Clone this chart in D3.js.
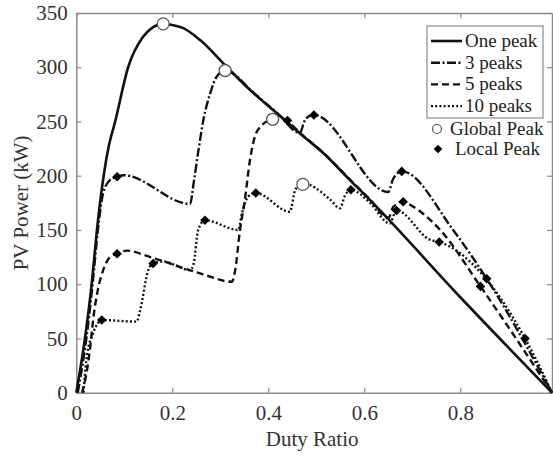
<!doctype html>
<html>

<head>
    <title>PV Power vs Duty Ratio</title>
    <style>
        body { margin: 0; background: #ffffff; }
        svg text { font-family: "Liberation Serif", "Times New Roman", "DejaVu Serif", serif !important; }
    </style>
</head>

<body>
    <script src="https://d3js.org/d3.v7.min.js"></script>
    <script>
    // curve data: [duty ratio, power in kW]
    var onePeak = [[0, 0], [0.018, 50], [0.032, 100], [0.043, 150], [0.057, 200], [0.068, 228], [0.081, 250],
        [0.108, 300], [0.139, 328], [0.16, 337], [0.181, 340], [0.2, 339], [0.223, 336], [0.258, 325],
        [0.313, 300.5], [0.362, 279], [0.418, 257.5], [0.466, 239], [0.515, 220.7], [0.57, 196],
        [0.612, 177.5], [0.8, 88], [0.991, 0]];

    var threePeaks = [[0.003, 0], [0.021, 50], [0.034, 100], [0.045, 150], [0.056, 184], [0.07, 196],
        [0.085, 199], [0.098, 200.5], [0.237, 174], [0.245, 195], [0.255, 225], [0.265, 252], [0.279, 276],
        [0.292, 291], [0.31, 297], [0.33, 293], [0.362, 279.5], [0.418, 258], [0.466, 239.5],
        [0.475, 250], [0.485, 255], [0.495, 256], [0.65, 185], [0.66, 197], [0.678, 204], [0.785, 150],
        [0.855, 105], [0.991, 0]];

    var fivePeaks = [[0.012, 0], [0.022, 20], [0.029, 42], [0.035, 67], [0.045, 95], [0.056, 113], [0.07, 125],
        [0.085, 128], [0.105, 131], [0.154, 125], [0.258, 110], [0.324, 102.3], [0.331, 113], [0.341, 150],
        [0.351, 177.5], [0.362, 215], [0.372, 236], [0.383, 245], [0.409, 252], [0.425, 253], [0.44, 250],
        [0.466, 239.5], [0.515, 221], [0.57, 196.5], [0.612, 178], [0.65, 161], [0.66, 171], [0.681, 176],
        [0.7, 172], [0.758, 150], [0.842, 98], [0.991, 0]];

    var tenPeaks = [[0.015, 0], [0.021, 30], [0.035, 55], [0.045, 64], [0.053, 67], [0.126, 65.5], [0.133, 76],
        [0.15, 113], [0.16, 119.3], [0.18, 121], [0.237, 113], [0.244, 118], [0.254, 150], [0.268, 159],
        [0.3375, 150], [0.345, 165], [0.358, 180.7], [0.374, 184], [0.445, 166.8], [0.456, 186.8],
        [0.472, 193], [0.529, 178], [0.549, 170], [0.56, 182], [0.572, 187], [0.612, 175], [0.653, 156],
        [0.667, 168], [0.737, 141], [0.756, 139], [0.935, 50], [0.991, 0]];

    var globalPeaks = [[0.181, 340], [0.31, 297], [0.409, 252], [0.472, 192]];
    var localPeaks = [[0.085, 199], [0.495, 256], [0.678, 204], [0.855, 105],
        [0.085, 128], [0.44, 251], [0.681, 176], [0.842, 98],
        [0.053, 67], [0.16, 119], [0.268, 159], [0.374, 184], [0.572, 187], [0.667, 168], [0.756, 139], [0.935, 50]];

    var xTicks = [0, 0.2, 0.4, 0.6, 0.8];
    var yTicks = [0, 50, 100, 150, 200, 250, 300, 350];
    var seriesNames = ["One peak", "3 peaks", "5 peaks", "10 peaks"];
    var seriesDash = [null, "9,2.5,2,2.5", "7,4", "2,2.2"];

    var width = 553, height = 457;
    var plot = { left: 76.3, right: 552, top: 13, bottom: 392.7 };
    var serif = "'Liberation Serif', 'Times New Roman', 'DejaVu Serif', serif";

    var svg = d3.select("body")
        .append("svg")
        .attr("width", width)
        .attr("height", height)
        .attr("font-family", serif)

    svg.append("rect")
        .attr("width", width)
        .attr("height", height)
        .attr("fill", "#ffffff")

    var x = d3.scaleLinear().domain([0, 0.991]).range([plot.left, plot.right]);
    var y = d3.scaleLinear().domain([0, 350]).range([plot.bottom, plot.top]);

    var axisColor = "#8c8c8c";

    // bottom axis with labels, ticks pointing inwards
    svg.append("g")
        .attr("transform", "translate(0," + plot.bottom + ")")
        .call(d3.axisBottom(x).tickValues(xTicks).tickFormat(d3.format("")).tickSizeInner(-5).tickSizeOuter(0).tickPadding(12))
    // top axis, ticks only
    svg.append("g")
        .attr("transform", "translate(0," + plot.top + ")")
        .call(d3.axisTop(x).tickValues(xTicks).tickFormat("").tickSizeInner(-5).tickSizeOuter(0))
    // left axis with labels
    svg.append("g")
        .attr("transform", "translate(" + plot.left + ",0)")
        .call(d3.axisLeft(y).tickValues(yTicks).tickSizeInner(-5).tickSizeOuter(0).tickPadding(8.5))
    // right axis, ticks only
    svg.append("g")
        .attr("transform", "translate(" + plot.right + ",0)")
        .call(d3.axisRight(y).tickValues(yTicks).tickFormat("").tickSizeInner(-5).tickSizeOuter(0))

    svg.selectAll("g").attr("font-family", serif);
    svg.selectAll(".domain").attr("stroke", axisColor).attr("stroke-width", 1.5);
    svg.selectAll(".tick line").attr("stroke", axisColor).attr("stroke-width", 1.2);
    svg.selectAll(".tick text")
        .attr("font-family", serif)
        .attr("font-size", 21)
        .attr("fill", "#333333")

    // axis titles
    svg.append("text")
        .attr("x", (plot.left + plot.right) / 2 - 2)
        .attr("y", 446)
        .attr("text-anchor", "middle")
        .attr("font-size", 21)
        .attr("fill", "#333333")
        .text("Duty Ratio")

    svg.append("text")
        .attr("transform", "translate(28," + (plot.top + plot.bottom) / 2 + ") rotate(-90)")
        .attr("text-anchor", "middle")
        .attr("font-size", 21)
        .attr("fill", "#333333")
        .text("PV Power (kW)")

    // curves
    var line = d3.line()
        .x(function (d) { return x(d[0]); })
        .y(function (d) { return y(d[1]); })
        .curve(d3.curveMonotoneX)

    var allSeries = [onePeak, threePeaks, fivePeaks, tenPeaks];
    allSeries.forEach(function (data, i) {
        svg.append("path")
            .datum(data)
            .attr("d", line)
            .attr("fill", "none")
            .attr("stroke", "#111111")
            .attr("stroke-width", i == 0 ? 2.6 : 2.4)
            .attr("stroke-dasharray", seriesDash[i])
    })

    // peak markers (square diamonds, like matlab 'd')
    var diamond = d3.symbol().type(d3.symbolDiamond2).size(58);
    svg.selectAll(".local")
        .data(localPeaks)
        .enter()
        .append("path")
        .attr("class", "local")
        .attr("d", diamond)
        .attr("transform", function (d) { return "translate(" + x(d[0]) + "," + y(d[1]) + ")"; })
        .attr("fill", "#000000")

    svg.selectAll(".global")
        .data(globalPeaks)
        .enter()
        .append("circle")
        .attr("class", "global")
        .attr("cx", function (d) { return x(d[0]); })
        .attr("cy", function (d) { return y(d[1]); })
        .attr("r", 6)
        .attr("fill", "#ffffff")
        .attr("stroke", "#555555")
        .attr("stroke-width", 1.3)

    // legend
    var legend = svg.append("g");
    legend.append("rect")
        .attr("x", 427)
        .attr("y", 26)
        .attr("width", 116)
        .attr("height", 92)
        .attr("fill", "#ffffff")
        .attr("stroke", axisColor)
        .attr("stroke-width", 1.2)

    seriesNames.forEach(function (name, i) {
        var ly = 41 + i * 21.7;
        legend.append("line")
            .attr("x1", 431)
            .attr("x2", 462)
            .attr("y1", ly)
            .attr("y2", ly)
            .attr("stroke", "#111111")
            .attr("stroke-width", i == 0 ? 2.6 : 2.4)
            .attr("stroke-dasharray", seriesDash[i])
        legend.append("text")
            .attr("x", 465)
            .attr("y", ly + 6)
            .attr("font-size", 19)
            .attr("fill", "#222222")
            .text(name)
    })

    legend.append("circle")
        .attr("cx", 437)
        .attr("cy", 129)
        .attr("r", 4.5)
        .attr("fill", "#ffffff")
        .attr("stroke", "#555555")
        .attr("stroke-width", 1.2)
    legend.append("text")
        .attr("x", 450)
        .attr("y", 135)
        .attr("font-size", 19)
        .attr("fill", "#222222")
        .text("Global Peak")

    legend.append("path")
        .attr("d", d3.symbol().type(d3.symbolDiamond2).size(48))
        .attr("transform", "translate(438,149)")
        .attr("fill", "#000000")
    legend.append("text")
        .attr("x", 455)
        .attr("y", 155)
        .attr("font-size", 19)
        .attr("fill", "#222222")
        .text("Local Peak")
    </script>
</body>

</html>
